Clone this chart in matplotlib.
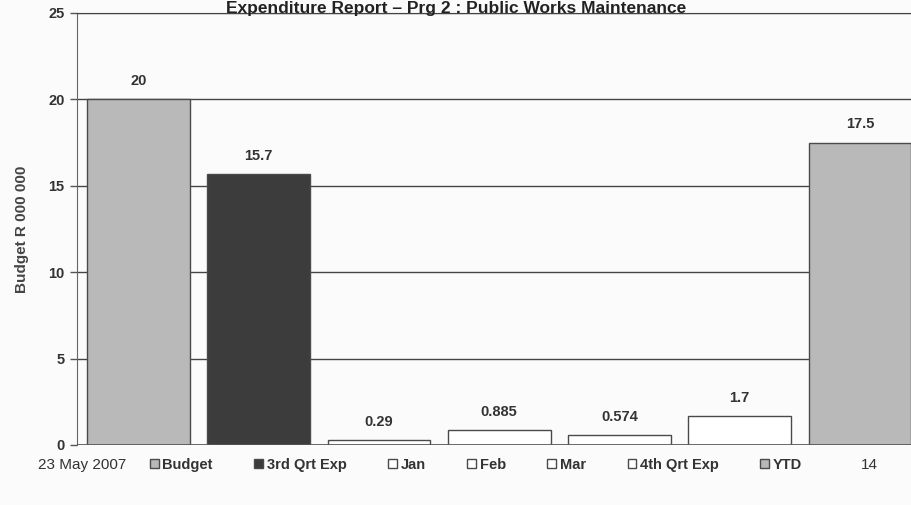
import matplotlib
matplotlib.use("Agg")
import matplotlib.pyplot as plt

plt.rcParams['font.family'] = ['Liberation Sans', 'DejaVu Sans']

categories = ["Budget", "3rd Qrt Exp", "Jan", "Feb", "Mar", "4th Qrt Exp", "YTD"]
values = [20, 15.7, 0.29, 0.885, 0.574, 1.7, 17.5]
value_labels = ["20", "15.7", "0.29", "0.885", "0.574", "1.7", "17.5"]
colors = ["#b9b9b9", "#3c3c3c", "#ffffff", "#ffffff", "#ffffff", "#ffffff", "#b9b9b9"]
yticks = [0, 5, 10, 15, 20, 25]

fig = plt.figure(figsize=(9.12, 5.05), dpi=100)
fig.patch.set_facecolor("#fbfbfb")
ax = fig.add_axes([77/912, 1-445/505, 1-77/912, (445-13)/505])
ax.set_facecolor("#fbfbfb")

xs = list(range(len(categories)))
bars = []
for x, v, c, lab in zip(xs, values, colors, categories):
    b = ax.bar(x, v, width=0.855, color=c, edgecolor="#4a4a4a", linewidth=1.0, label=lab, zorder=3)
    bars.append(b)
for x, v, t in zip(xs, values, value_labels):
    ax.annotate(t, (x, v), xytext=(0, 8), textcoords="offset points", ha="center", va="bottom",
                fontsize=10.5, fontweight="bold", color="#333333")

ax.set_xlim(-0.511, 6.433)
ax.set_ylim(0, 25)
ax.set_yticks(yticks)
ax.set_yticklabels([str(t) for t in yticks], fontsize=10.5, fontweight="bold", color="#333333")
ax.set_xticks([])
ax.yaxis.grid(True, color="#444444", linewidth=1.0, zorder=0)
ax.tick_params(axis="y", length=5, width=1, color="#555555", pad=4)
for s in ["right", "bottom"]:
    ax.spines[s].set_visible(False)
ax.spines["left"].set_color("#666666")
ax.spines["top"].set_color("#444444")
ax.axhline(0, color="#555555", linewidth=1.2, zorder=4)
ax.set_ylabel("Budget R 000 000", fontsize=11, fontweight="bold", color="#444444", labelpad=14)

fig.text(0.5, 1 - 0.5/505, "Expenditure Report \u2013 Prg 2 : Public Works Maintenance",
         ha="center", va="top", fontsize=12.5, fontweight="bold", color="#222222")

fig.text(38/912, 1 - 465/505, "23 May 2007", ha="left", va="center", fontsize=11, color="#333333")
fig.text(869/912, 1 - 465/505, "14", ha="center", va="center", fontsize=11, color="#333333")

leg = fig.legend(handles=bars, labels=categories, loc="center", bbox_to_anchor=(476/912, 1 - 465/505),
                 ncol=7, frameon=False, prop={"size": 10.5, "weight": "bold"},
                 handlelength=0.6, handleheight=0.6, handletextpad=0.25, columnspacing=2.85)
for t in leg.get_texts():
    t.set_color("#333333")

fig.savefig("out.png", dpi=100, facecolor=fig.get_facecolor())
